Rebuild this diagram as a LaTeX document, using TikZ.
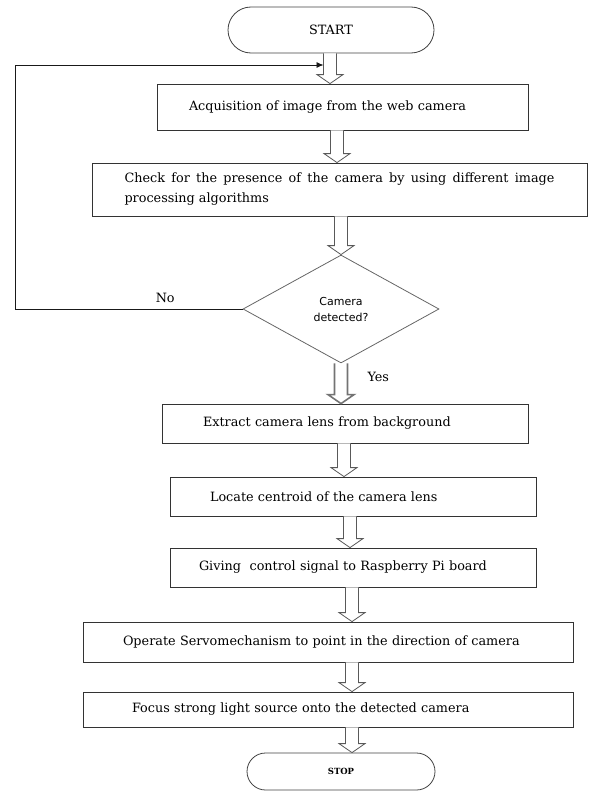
\documentclass[tikz,border=0pt]{standalone}
\usepackage{fontspec}
\setmainfont{DejaVu Serif}
\newfontfamily\decisionfont{DejaVu Sans}
\usepackage{tikz}
\usetikzlibrary{shapes.geometric, shapes.misc, arrows.meta}

% hollow block arrow: [style]{from}{to}{xshift}
\newcommand{\hollowarrow}[4][]{%
  \coordinate (ha-top) at ([xshift=#4]#2.south);
  \coordinate (ha-tip) at (ha-top |- #3.north);
  \draw[blockarrow, #1] ([xshift=-6.5pt]ha-top) -- ([xshift=-6.5pt, yshift=9pt]ha-tip)
    -- ([xshift=-13pt, yshift=9pt]ha-tip) -- (ha-tip)
    -- ([xshift=13pt, yshift=9pt]ha-tip) -- ([xshift=6.5pt, yshift=9pt]ha-tip)
    -- ([xshift=6.5pt]ha-top);
}

\begin{document}
\begin{tikzpicture}[x=1pt, y=-1pt,
    terminal/.style={draw=black!75, line width=0.8pt, rounded rectangle, minimum width=206pt, minimum height=46pt, inner sep=0pt},
    stepbox/.style={draw=black!80, line width=0.8pt, align=left, font=\fontsize{12.8}{20}\selectfont},
    decision/.style={draw=black!60, line width=0.8pt, diamond, minimum width=196pt, minimum height=108pt, inner sep=0pt, align=center, font=\decisionfont\fontsize{11}{16}\selectfont},
    blockarrow/.style={draw=black!65, fill=white, line width=0.8pt},
    loopline/.style={draw=black!90, line width=0.8pt, -{Latex[length=7pt, width=6pt]}},
    lbl/.style={font=\fontsize{12.8}{14}\selectfont}
]
    \useasboundingbox (0,0) rectangle (592,792);

    % Steps
    \node[terminal, font=\fontsize{12.8}{14}\selectfont] (start) at (331,30) {START};
    \node[stepbox, minimum height=46pt, text width=307pt, inner xsep=32pt] (acquire) at (342.5,107) {Acquisition of image from the web camera};
    \node[stepbox, align=justify, minimum height=53pt, text width=430pt, inner xsep=32.5pt] (check) at (339.5,189.5) {Check for the presence of the camera by using different image\linebreak processing algorithms};
    \node[decision] (detect) at (341,309) {Camera\\detected?};
    \node[stepbox, minimum height=39pt, text width=284pt, inner xsep=41pt] (extract) at (345,423.5) {Extract camera lens from background};
    \node[stepbox, minimum height=39pt, text width=286pt, inner xsep=40pt] (centroid) at (353,496.5) {Locate centroid of the camera lens};
    \node[stepbox, minimum height=39pt, text width=308pt, inner xsep=29pt] (signal) at (353,567.5) {Giving\ \ control signal to Raspberry Pi board};
    \node[stepbox, minimum height=40pt, text width=410pt, inner xsep=40pt] (servo) at (328,642) {Operate Servomechanism to point in the direction of camera};
    \node[stepbox, minimum height=35pt, text width=392pt, inner xsep=49pt] (focus) at (328,709.5) {Focus strong light source onto the detected camera};
    \node[terminal, minimum width=188pt, minimum height=37pt, font=\bfseries\fontsize{8.5}{10}\selectfont] (stop) at (341,771.5) {STOP};

    % Flow
    \hollowarrow{start}{acquire}{-1pt}
    \hollowarrow{acquire}{check}{-5.5pt}
    \hollowarrow{check}{detect}{1.5pt}
    \hollowarrow[draw=black!55, line width=1.6pt]{detect}{extract}{0pt}
    \hollowarrow{extract}{centroid}{-1pt}
    \hollowarrow{centroid}{signal}{-3pt}
    \hollowarrow{signal}{servo}{-1pt}
    \hollowarrow{servo}{focus}{24pt}
    \hollowarrow{focus}{stop}{24pt}
    \node[lbl, anchor=west] (yes) at ([xshift=23pt, yshift=-14pt]detect.south) {Yes};

    % Loop back
    \coordinate (loopleft) at (15,65);
    \draw[loopline] (detect.west) -| node[lbl, above=3pt, pos=0.17] (no) {No} (loopleft) -- ([xshift=-7.5pt]start.south |- loopleft);
\end{tikzpicture}
\end{document}
